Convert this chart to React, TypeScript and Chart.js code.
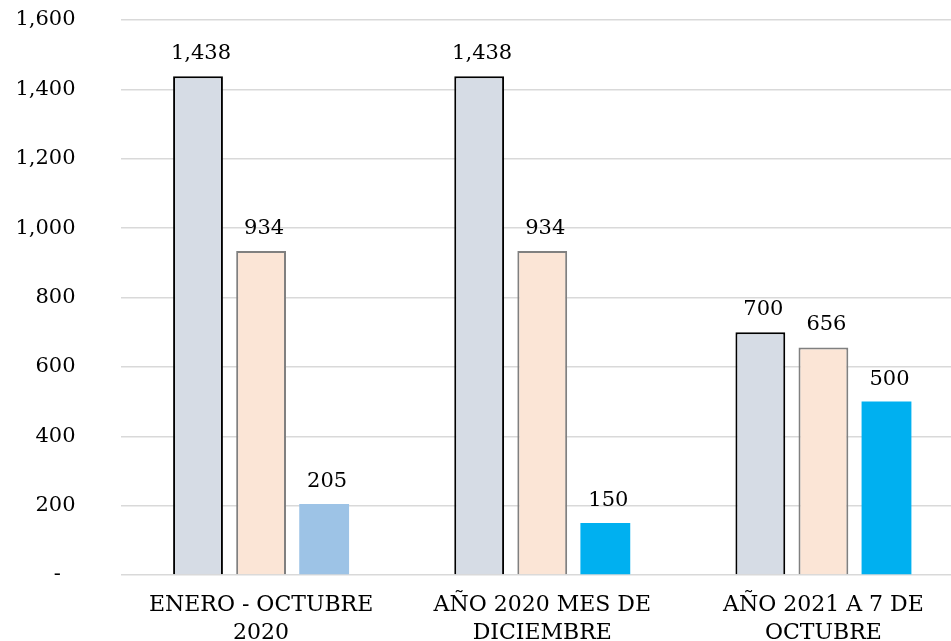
import React, { useEffect, useRef } from "react";
import { Chart, registerables } from "chart.js";

Chart.register(...registerables);

const categories: string[][] = [
  ["ENERO - OCTUBRE", "2020"],
  ["AÑO 2020 MES DE", "DICIEMBRE"],
  ["AÑO 2021 A 7 DE", "OCTUBRE"],
];
const seriesA: number[] = [1438, 1438, 700];
const seriesB: number[] = [934, 934, 656];
const seriesC: number[] = [205, 150, 500];
const yTicks: number[] = [0, 200, 400, 600, 800, 1000, 1200, 1400, 1600];

const FONT = "'DejaVu Serif', serif";
const fmt = (v: number) => v.toLocaleString("en-US");

const valueLabels = {
  id: "valueLabels",
  afterDatasetsDraw(chart: any) {
    const ctx = chart.ctx;
    ctx.save();
    ctx.font = `21px ${FONT}`;
    ctx.fillStyle = "#000";
    ctx.textAlign = "center";
    ctx.textBaseline = "alphabetic";
    chart.data.datasets.forEach((ds: any, i: number) => {
      const meta = chart.getDatasetMeta(i);
      meta.data.forEach((bar: any, j: number) => {
        ctx.fillText(fmt(ds.data[j]), bar.x + 3, bar.y - 17);
      });
    });
    ctx.restore();
  },
};

export default function App() {
  const ref = useRef<HTMLCanvasElement | null>(null);
  useEffect(() => {
    if (!ref.current) return;
    const chart = new Chart(ref.current, {
      type: "bar",
      data: {
        labels: categories,
        datasets: [
          {
            data: seriesA,
            backgroundColor: "#D6DCE5",
            borderColor: "#000000",
            borderWidth: 2,
            barPercentage: 0.79,
            categoryPercentage: 0.673,
          },
          {
            data: seriesB,
            backgroundColor: "#FBE5D6",
            borderColor: "#808080",
            borderWidth: 2,
            barPercentage: 0.79,
            categoryPercentage: 0.673,
          },
          {
            data: seriesC,
            backgroundColor: ["#9DC3E6", "#00B0F0", "#00B0F0"],
            borderWidth: 0,
            barPercentage: 0.79,
            categoryPercentage: 0.673,
          },
        ],
      },
      options: {
        animation: false,
        responsive: false,
        maintainAspectRatio: false,
        layout: { padding: { top: 20, right: 0, left: 0, bottom: 0 } },
        plugins: { legend: { display: false }, tooltip: { enabled: false } },
        scales: {
          x: {
            grid: { display: false, drawTicks: false },
            border: { display: false },
            ticks: {
              color: "#000",
              font: { family: FONT, size: 22, lineHeight: 1.27 },
              padding: 16,
              maxRotation: 0,
              autoSkip: false,
            },
            afterFit: (s: any) => {
              s.height = 66;
              s.paddingLeft = 0;
              s.paddingRight = 0;
            },
          },
          y: {
            min: 0,
            max: 1600,
            afterBuildTicks: (s: any) => {
              s.ticks = yTicks.map((v) => ({ value: v }));
            },
            grid: { color: "#D9D9D9", lineWidth: 1.5, drawTicks: false },
            border: { display: false },
            ticks: {
              color: "#000",
              font: { family: FONT, size: 21 },
              padding: 45,
              callback: (v: any) => (Number(v) === 0 ? "-\u2002\u2009" : fmt(Number(v))),
            },
            afterFit: (s: any) => {
              s.width = 120.5;
              s.paddingTop = 0;
              s.paddingBottom = 0;
            },
          },
        },
      },
      plugins: [valueLabels],
    });
    return () => chart.destroy();
  }, []);
  return (
    <div
      style={{
        position: "fixed",
        left: 0,
        top: 0,
        width: 951,
        height: 641,
        overflow: "hidden",
        background: "#fff",
      }}
    >
      <canvas ref={ref} width={964} height={641} style={{ width: 964, height: 641, display: "block" }} />
    </div>
  );
}
